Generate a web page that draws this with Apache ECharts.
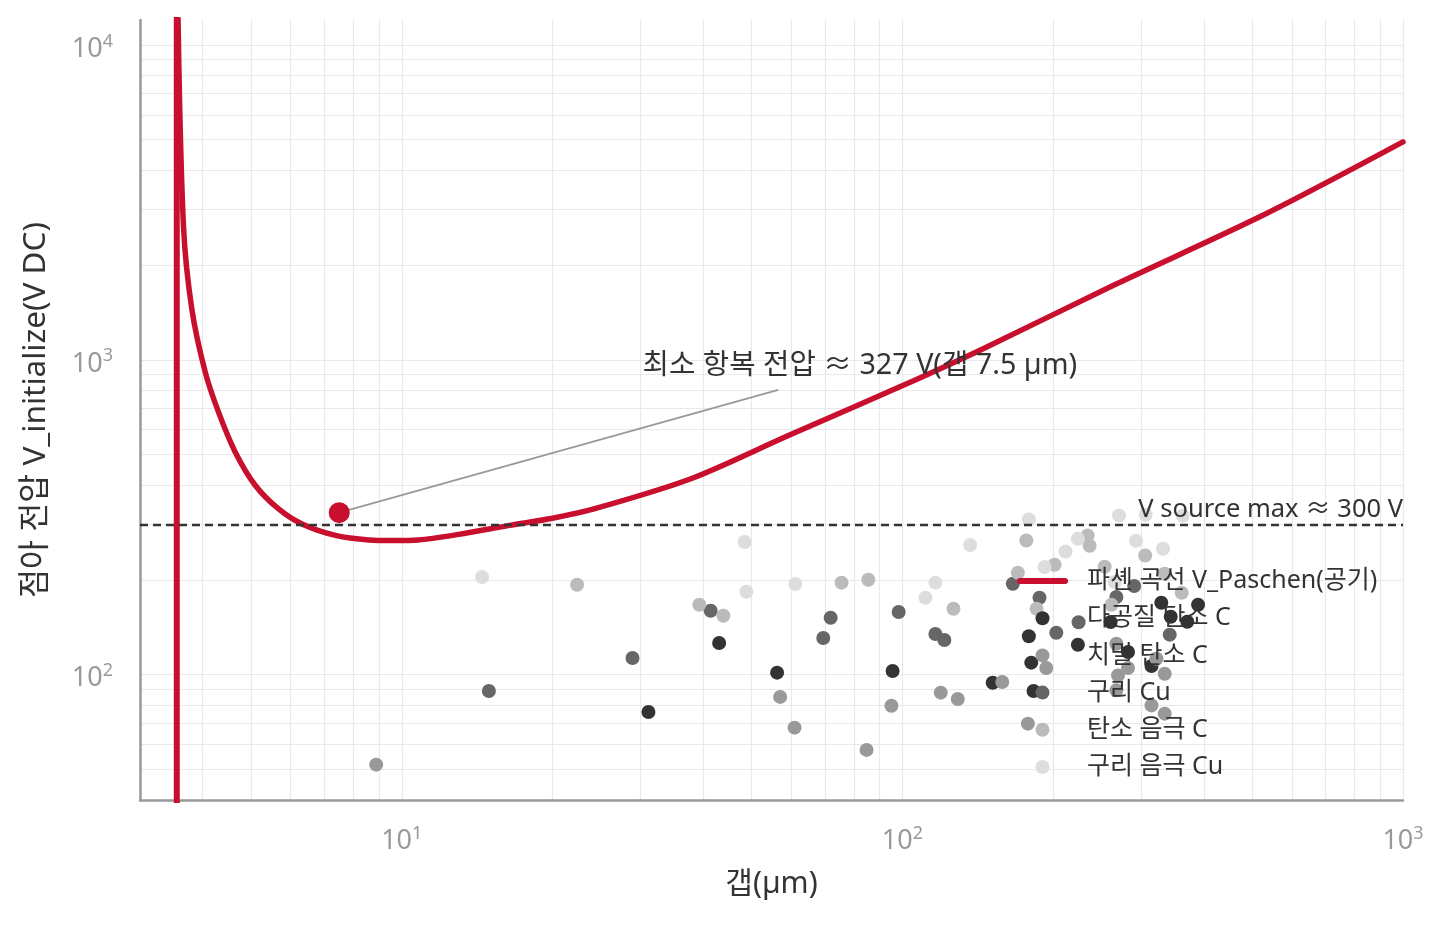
<!DOCTYPE html>
<html><head><meta charset="utf-8">
<script src="https://cdn.jsdelivr.net/npm/echarts@6/dist/echarts.min.js"></script>
<style>html,body{margin:0;padding:0;background:#fff}#c{width:1447px;height:925px}</style>
</head><body><div id="c"></div>
<script>
// grid / tick values
const xGridValues = [3,4,5,6,7,8,9,10,20,30,40,50,60,70,80,90,100,200,300,400,500,600,700,800,900,1000];
const yGridValues = [40,50,60,70,80,90,100,200,300,400,500,600,700,800,900,1000,2000,3000,4000,5000,6000,7000,8000,9000,10000];
const xLabelValues = [10,100,1000];
const yLabelValues = [100,1000,10000];

// Paschen curve: asymptote segment and main branch
const paschenAsymptote = [[3.553,1],[3.553,100000]];
const paschenBranch = [[3.556,60000],[3.573,12500],[3.664,2662],[3.807,1452],[4.05,914],[4.305,682],[4.65,509],[5.10,399],[5.675,336],[6.32,301],[7.37,277],[8.6,268],[9.6,267],[10.8,268],[13.0,279],[16.4,298],[20.0,314],[24.2,336],[37.8,419],[59.2,575],[107.5,871],[145,1084],[263.5,1722],[523.6,2871],[1000,4921]];

const minPoint = [[7.5,327]];
const sourceMax = 300;

const porousCarbon = [[31.1,76.1],[43.05,126.1],[56.2,101.5],[95.6,102.7],[151.5,94.3],[329,169.3],[389.6,166.8],[343.6,152.8],[370.7,147.3],[260.6,147.0],[178.9,132.5],[224.2,124.5],[282.3,118.1],[314.5,106.6],[180.9,109.2],[182.8,88.8]];
const denseCarbon = [[8.89,51.8],[57.0,85.0],[119.3,87.7],[129.0,83.7],[158.3,94.8],[95.1,79.7],[60.9,67.9],[84.8,57.7],[267.6,125.4],[321.7,112.4],[282.3,105.0],[269.6,99.5],[334.2,100.7],[267.6,89.2],[314.5,79.9],[334.2,75.2],[193.8,105.0],[178.1,69.9]];
const copper = [[28.9,113.0],[14.93,88.8],[41.4,159.7],[71.9,151.7],[98.3,158.1],[69.5,130.8],[116.4,134.6],[121.3,128.9],[166.2,194.5],[187.9,175.6],[267.6,176.5],[290.4,191.2],[224.9,146.8],[203.0,135.9],[342.0,134.0]];
const carbonCathode = [[22.4,193.1],[75.6,196.0],[85.5,200.3],[39.3,166.8],[43.9,153.9],[126.5,162.0],[176.8,266.9],[234.4,276.8],[236.6,256.8],[305.5,239.1],[201.4,223.5],[170.1,210.8],[253.5,220.2],[185.4,162.0],[361.4,182.1],[261.5,166.8],[334.2,209.2]];
const copperCathode = [[14.47,204.3],[48.4,263.9],[136.6,258.1],[61.1,194.1],[116.4,196.0],[48.8,183.4],[111.2,175.6],[178.9,311.2],[270.8,320.4],[224.2,270.2],[292.9,266.4],[331.6,251.2],[211.8,246.3],[192.3,219.8],[265.5,197.0],[363.1,319.7],[306.2,322.1]];

const seriesNames = ['파셴 곡선 V_Paschen(공기)','다공질 탄소 C','치밀 탄소 C','구리 Cu','탄소 음극 C','구리 음극 Cu'];
const scatterColors = ['#333333','#999999','#666666','#bbbbbb','#dddddd'];
const scatterData = [porousCarbon, denseCarbon, copper, carbonCathode, copperCathode];

const FONT = "'Noto Sans', 'Noto Sans CJK KR', sans-serif";
const RED = '#c8102e';

const supFmt = v => '10{sup|' + Math.round(Math.log10(v)) + '}';
const tickRich = { sup:{ fontSize:18, color:'#999', fontFamily:FONT, padding:[0,0,15,0] } };

const chart = echarts.init(document.getElementById('c'), null, {renderer:'canvas'});

const scatterSeries = scatterData.map((d,i)=>({
  type:'scatter', name:seriesNames[i+1], data:d, symbolSize:14,
  itemStyle:{color:scatterColors[i], opacity:1}, z:2, silent:true
}));

const lineIcon = 'path://M3,0 L48,0 A3,3 0 0 1 48,6 L3,6 A3,3 0 0 1 3,0 Z';

chart.setOption({
  animation:false,
  backgroundColor:'#fff',
  grid:{left:140, right:44, top:20, bottom:125, containLabel:false},
  xAxis:{
    type:'log', min:3, max:1000, logBase:10,
    name:'갭(µm)', nameLocation:'middle', nameGap:69,
    nameTextStyle:{color:'#333', fontSize:30, fontFamily:FONT},
    axisLine:{show:true, onZero:false, lineStyle:{color:'#999', width:2.5}},
    axisTick:{show:false, customValues:xGridValues},
    axisLabel:{customValues:xLabelValues, margin:25, color:'#999', fontSize:27, fontFamily:FONT, formatter:supFmt, rich:tickRich},
    splitLine:{show:true, lineStyle:{color:'#e9e9e9', width:1.2}},
    minorSplitLine:{show:false}
  },
  yAxis:{
    type:'log', min:40, max:12000, logBase:10,
    name:'점아 전압 V_initialize(V DC)', nameLocation:'middle', nameGap:88, nameRotate:90,
    nameTextStyle:{color:'#333', fontSize:31.5, fontFamily:FONT},
    axisLine:{show:true, onZero:false, lineStyle:{color:'#999', width:2.5}},
    axisTick:{show:false, customValues:yGridValues},
    axisLabel:{customValues:yLabelValues, margin:27, color:'#999', fontSize:27, fontFamily:FONT, formatter:supFmt, rich:tickRich, padding:[8,0,0,0]},
    splitLine:{show:true, lineStyle:{color:'#e9e9e9', width:1.2}}
  },
  legend:{
    orient:'vertical', left:1017, top:568, padding:0, itemWidth:51, itemHeight:14, itemGap:11.2,
    textStyle:{fontSize:25, color:'#333', fontFamily:FONT, lineHeight:26, padding:[0,0,0,14]},
    data:[
      {name:seriesNames[0], icon:lineIcon, itemStyle:{color:RED}},
      {name:seriesNames[1], icon:'circle'},
      {name:seriesNames[2], icon:'circle'},
      {name:seriesNames[3], icon:'circle'},
      {name:seriesNames[4], icon:'circle'},
      {name:seriesNames[5], icon:'circle'}
    ],
    selectedMode:false
  },
  series:[
    {
      type:'line', name:seriesNames[0], data:paschenAsymptote, showSymbol:false, symbol:'none',
      lineStyle:{color:RED, width:6}, itemStyle:{color:RED}, z:3, silent:true, clip:true
    },
    {
      type:'line', name:seriesNames[0], data:paschenBranch, showSymbol:false, symbol:'none', smooth:0.3,
      lineStyle:{color:RED, width:5.5, cap:'round', join:'round'}, itemStyle:{color:RED}, z:3, silent:true, clip:true,
      markLine:{
        silent:true, symbol:['none','none'], animation:false,
        data:[
          {yAxis:sourceMax, lineStyle:{color:'#333', type:[8,5], width:2.4},
           label:{show:true, position:'insideEndTop', distance:[0,2], formatter:'V source max ≈ 300 V', color:'#333', fontSize:25.5, fontFamily:FONT}},
          [{coord:[7.5,327], lineStyle:{color:'#999', width:1.8, type:'solid'}, label:{show:false}}, {coord:[56.5,803]}]
        ]
      }
    },
    ...scatterSeries,
    {
      type:'scatter', name:'min', data:minPoint, symbolSize:21, itemStyle:{color:RED, opacity:1}, z:6, silent:true,
      markPoint:{
        silent:true, symbol:'circle', symbolSize:1, itemStyle:{color:'rgba(0,0,0,0)'},
        data:[{coord:[30.2,957]}],
        label:{show:true, position:'right', distance:0, formatter:'최소 항복 전압 ≈ 327 V(갭 7.5 µm)', color:'#333', fontSize:28.7, fontFamily:FONT}
      }
    }
  ]
});
</script></body></html>
